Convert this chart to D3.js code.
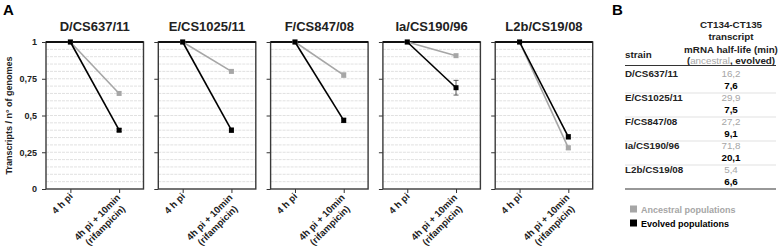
<!DOCTYPE html>
<html>
<head>
<meta charset="utf-8">
<script src="https://cdn.jsdelivr.net/npm/d3@7"></script>
<style>
  body { margin: 0; background: #fff; }
  svg text { font-family: "Liberation Sans", Arial, sans-serif; }
</style>
</head>
<body>
<div id="chart"></div>
<script>
// Data
const strains = ["D/CS637/11", "E/CS1025/11", "F/CS847/08", "Ia/CS190/96", "L2b/CS19/08"]
const timepoints = ["4 h pi", "4h pi + 10min|(rifampicin)"]
const ancestral = [[1, 0.65], [1, 0.80], [1, 0.775], [1, 0.907], [1, 0.28]]
const ancestralErr = [[0, 0.005], [0, 0.005], [0, 0.015], [0, 0.005], [0, 0.012]]
const evolved = [[1, 0.40], [1, 0.40], [1, 0.467], [1, 0.689], [1, 0.355]]
const evolvedErr = [[0, 0.01], [0, 0.015], [0, 0.015], [0, 0.05], [0, 0.015]]
const yTicks = [0, 0.25, 0.5, 0.75, 1]
const halfAncestral = ["16,2", "29,9", "27,2", "71,8", "5,4"]
const halfEvolved = ["7,6", "7,5", "9,1", "20,1", "6,6"]

const W = 780, H = 247
const gray = "#a6a6a6"

const svg = d3.select("#chart").append("svg")
	.attr("width", W)
	.attr("height", H)

svg.append("text").attr("x", 3).attr("y", 15)
	.style("font-size", "15px").style("font-weight", "bold").text("A")

const plotTop = 42, plotBottom = 189
const panelW = 97.5
const panelLeft = (i) => 46 + i * 112.3

const y = d3.scaleLinear().domain([0, 1]).range([plotBottom, plotTop])

// Y axis label
svg.append("text")
	.attr("transform", `translate(12,${(plotTop + plotBottom) / 2}) rotate(-90)`)
	.attr("text-anchor", "middle")
	.style("font-size", "9px").style("font-weight", "bold")
	.attr("fill", "#222")
	.text("Transcripts / n° of genomes")

strains.forEach((name, i) => {
	const x0 = panelLeft(i)
	const x = d3.scalePoint().domain(timepoints).range([x0, x0 + panelW]).padding(0.5)
	const g = svg.append("g")

	// gridlines every 0.05
	g.append("g").selectAll("line")
		.data(d3.range(1, 20).map((k) => k * 0.05))
		.join("line")
		.attr("x1", x0).attr("x2", x0 + panelW)
		.attr("y1", (d) => y(d)).attr("y2", (d) => y(d))
		.attr("stroke", "#d9d9d9").attr("stroke-width", 0.8)
		.attr("stroke-dasharray", "3,1")

	// y axis ticks
	const ya = g.append("g")
		.attr("transform", `translate(${x0},0)`)
		.call(d3.axisLeft(y).tickValues(yTicks).tickSize(4)
			.tickFormat(i === 0 ? (d) => String(d).replace(".", ",") : ""))
	ya.select(".domain").remove()
	ya.selectAll("line").attr("stroke", "#333")
	ya.selectAll("text").style("font-size", "9px").style("font-weight", "bold")
		.attr("fill", "#222").attr("dx", "-2")

	// x axis ticks
	const xa = g.append("g")
		.attr("transform", `translate(0,${plotBottom})`)
		.call(d3.axisBottom(x).tickSize(4).tickFormat(""))
	xa.select(".domain").remove()
	xa.selectAll("line").attr("stroke", "#333")

	// frame
	g.append("rect")
		.attr("x", x0).attr("y", plotTop)
		.attr("width", panelW).attr("height", plotBottom - plotTop)
		.attr("fill", "none").attr("stroke", "#3a3a3a").attr("stroke-width", 1.4)
	g.append("line")
		.attr("x1", x0).attr("x2", x0 + panelW)
		.attr("y1", plotTop).attr("y2", plotTop)
		.attr("stroke", "#111").attr("stroke-width", 1.8)

	// x tick labels (rotated, multi-line block ending at the tick)
	timepoints.forEach((t) => {
		const lines = t.split("|")
		const tx = g.append("text")
			.attr("transform", `translate(${x(t) + 3},${plotBottom + 8}) rotate(-45)`)
			.style("font-size", "9.5px").style("font-weight", "bold")
			.attr("fill", "#222")
		if (lines.length === 1) {
			tx.attr("text-anchor", "end").text(lines[0])
		} else {
			lines.forEach((l, k) => {
				tx.append("tspan").attr("x", -32).attr("dy", k === 0 ? 0 : "1.2em")
					.attr("text-anchor", "middle")
					.text(l)
			})
		}
	})

	// title
	svg.append("text")
		.attr("x", x0 + panelW / 2).attr("y", 31)
		.attr("text-anchor", "middle")
		.style("font-size", "13px").style("font-weight", "bold")
		.attr("fill", "#222")
		.text(name)

	const series = [
		{ vals: ancestral[i], err: ancestralErr[i], color: gray },
		{ vals: evolved[i], err: evolvedErr[i], color: "#000" },
	]
	const line = d3.line().x((d, k) => x(timepoints[k])).y((d) => y(d))
	series.forEach((s) => {
		g.append("path").datum(s.vals)
			.attr("fill", "none").attr("stroke", s.color)
			.attr("stroke-width", 1.6).attr("d", line)
		s.vals.forEach((v, k) => {
			const cx = x(timepoints[k])
			if (s.err[k] > 0.008) {
				g.append("line")
					.attr("x1", cx).attr("x2", cx)
					.attr("y1", y(v - s.err[k])).attr("y2", y(v + s.err[k]))
					.attr("stroke", s.color === gray ? gray : "#333").attr("stroke-width", 0.8)
				;[v - s.err[k], v + s.err[k]].forEach((e) => {
					g.append("line")
						.attr("x1", cx - 2.5).attr("x2", cx + 2.5)
						.attr("y1", y(e)).attr("y2", y(e))
						.attr("stroke", s.color === gray ? gray : "#333").attr("stroke-width", 0.8)
				})
			}
			g.append("rect")
				.attr("x", cx - 2.5).attr("y", y(v) - 2.5)
				.attr("width", 5).attr("height", 5)
				.attr("fill", s.color)
		})
	})
})

// Panel B
svg.append("text").attr("x", 612).attr("y", 15)
	.style("font-size", "15px").style("font-weight", "bold").text("B")

const tb = svg.append("g").style("font-size", "9.8px").style("font-weight", "bold")
const colX = 731
;["CT134-CT135", "transcript", "mRNA half-life (min)"].forEach((t, k) => {
	tb.append("text").attr("x", colX).attr("y", 28 + k * 12.3)
		.attr("text-anchor", "middle").attr("fill", "#222").text(t)
})
const hdr = tb.append("text").attr("x", colX).attr("y", 63.5)
	.attr("text-anchor", "middle").attr("fill", "#222")
hdr.append("tspan").text("(")
hdr.append("tspan").attr("fill", gray).style("font-weight", "normal").text("ancestral")
hdr.append("tspan").text(", evolved)")
tb.append("text").attr("x", 625).attr("y", 58).attr("fill", "#222").text("strain")

tb.append("line").attr("x1", 625).attr("x2", 776).attr("y1", 65.5).attr("y2", 65.5)
	.attr("stroke", "#333").attr("stroke-width", 1)

const rowY = d3.scaleLinear().domain([0, 5]).range([77, 197])
strains.forEach((s, i) => {
	const yy = rowY(i)
	tb.append("text").attr("x", 625).attr("y", yy).attr("fill", "#222").text(s)
	tb.append("text").attr("x", colX).attr("y", yy).attr("text-anchor", "middle")
		.attr("fill", gray).style("font-weight", "normal").text(halfAncestral[i])
	tb.append("text").attr("x", colX).attr("y", yy + 12.3).attr("text-anchor", "middle")
		.attr("fill", "#000").text(halfEvolved[i])
	const last = i === strains.length - 1
	tb.append("line").attr("x1", 625).attr("x2", 776)
		.attr("y1", yy + 16).attr("y2", yy + 16)
		.attr("stroke", last ? "#333" : "#cfcfcf").attr("stroke-width", last ? 1.2 : 0.6)
})

// legend
const legend = [
	{ label: "Ancestral populations", color: gray },
	{ label: "Evolved populations", color: "#000" },
]
legend.forEach((d, i) => {
	const ly = 209 + i * 14
	svg.append("rect").attr("x", 630).attr("y", ly - 3.5).attr("width", 7).attr("height", 7)
		.attr("fill", d.color)
	svg.append("text").attr("x", 641).attr("y", ly + 3.5)
		.style("font-size", "9px").style("font-weight", "bold")
		.attr("fill", i === 0 ? gray : "#000").text(d.label)
})
</script>
</body>
</html>
